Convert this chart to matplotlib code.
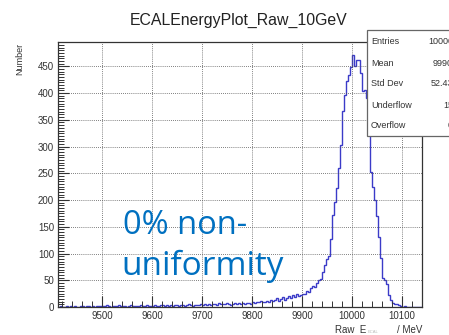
import matplotlib
matplotlib.use("Agg")
import matplotlib.pyplot as plt
import numpy as np

plt.rcParams["font.family"] = ["Liberation Sans", "DejaVu Sans"]

# 4 MeV bins from 9412 to 10140 MeV
bin_lo = 9412
bin_w = 4
counts = [
    # 9412 - 9500
    0, 1, 0, 0, 1, 0, 2, 0, 1, 0, 0, 1, 1, 0, 2, 1, 0, 1, 0, 2, 1, 1,
    # 9500 - 9600
    2, 1, 3, 1, 0, 2, 2, 1, 3, 2, 1, 2, 0, 1, 3, 2, 2, 1, 2, 3, 1, 2, 4, 2, 1,
    # 9600 - 9700
    2, 3, 2, 1, 3, 4, 2, 3, 2, 3, 1, 4, 3, 2, 3, 4, 2, 3, 5, 3, 2, 4, 3, 4, 5,
    # 9700 - 9800
    4, 5, 3, 6, 4, 5, 6, 4, 7, 5, 6, 5, 7, 6, 4, 6, 7, 5, 8, 6, 7, 6, 8, 7, 6,
    # 9800 - 9900
    9, 8, 10, 9, 11, 10, 9, 12, 10, 13, 11, 14, 16, 12, 15, 18, 14, 17, 20, 16,
    22, 19, 24, 21, 23,
    # 9900 - 10000
    25, 24, 30, 28, 35, 40, 38, 45, 50, 52, 65, 78, 90, 96, 128, 172, 197, 222,
    260, 303, 366, 397, 422, 434, 449,
    # 10000 - 10100
    471, 450, 462, 462, 437, 403, 405, 390, 350, 252, 225, 200, 170, 130, 92,
    55, 50, 43, 22, 14, 8, 5, 6, 3, 2,
    # 10100 - 10140
    0, 1, 0, 0, 0, 0, 0, 0, 0, 0,
]
edges = bin_lo + bin_w * np.arange(len(counts) + 1)

stat_names = ["Entries", "Mean", "Std Dev", "Underflow", "Overflow"]
stat_values = ["10000", "9990", "52.43", "15", "0"]

x_ticks = [9500, 9600, 9700, 9800, 9900, 10000, 10100]
y_ticks = list(range(0, 451, 50))

W, H = 449, 335
fig = plt.figure(figsize=(W / 100, H / 100), dpi=100)
ax = fig.add_axes([58.3 / W, 1 - 307 / H, (421.7 - 58.3) / W, (307 - 42) / H])

ax.stairs(counts, edges, color="#3b3bc8", lw=1.0)

ax.set_xlim(9412, 10140)
ax.set_ylim(0, 495.5)
ax.set_xticks(x_ticks)
ax.set_yticks(y_ticks)
ax.set_xticks(np.arange(9420, 10140, 20), minor=True)
ax.set_yticks(np.arange(0, 495, 5), minor=True)
ax.tick_params(which="major", direction="in", length=8, width=0.8,
               color="#333333", labelsize=7, labelcolor="#333333", pad=3)
ax.tick_params(which="minor", direction="in", length=4, width=0.7,
               color="#333333")
ax.grid(True, which="major", color="#555555", ls=(0, (1, 1.5)), lw=0.6)
for s in ax.spines.values():
    s.set_color("#333333")
    s.set_linewidth(0.9)

fig.text(239 / W, 1 - 20 / H, "ECALEnergyPlot_Raw_10GeV", ha="center",
         va="center", fontsize=11.4, color="#222222")
fig.text(20 / W, 1 - 43 / H, "Number", rotation=90, ha="center", va="top",
         fontsize=6.5, color="#333333")

# axis title, bottom right
fig.text(335 / W, 1 - 330 / H, "Raw  E", ha="left", va="center",
         fontsize=7, color="#333333")
fig.text(368 / W, 1 - 332 / H, "ECAL", ha="left", va="center",
         fontsize=3, color="#bbbbbb")
fig.text(422 / W, 1 - 330 / H, "/ MeV", ha="right", va="center",
         fontsize=7, color="#333333")

# statistics box, running off the right edge
box = plt.Rectangle((367 / W, 1 - 136 / H), 100 / W, 106 / H,
                    transform=fig.transFigure, facecolor="white",
                    edgecolor="#666666", lw=0.9, zorder=5)
fig.patches.append(box)
for i, (name, val) in enumerate(zip(stat_names, stat_values)):
    yy = 1 - (42 + 21 * i) / H
    fig.text(371 / W, yy, name, ha="left", va="center", fontsize=6.5,
             color="#333333", zorder=6)
    fig.text(453 / W, yy, val, ha="right", va="center", fontsize=6.5,
             color="#333333", zorder=6)

fig.text(123 / W, 1 - 225 / H, "0% non-", ha="left", va="center",
         fontsize=23.5, color="#0070c0", family="Open Sans")
fig.text(121 / W, 1 - 266 / H, "uniformity", ha="left", va="center",
         fontsize=24, color="#0070c0", family="Open Sans")

fig.savefig("out.png", dpi=100, facecolor="white")
